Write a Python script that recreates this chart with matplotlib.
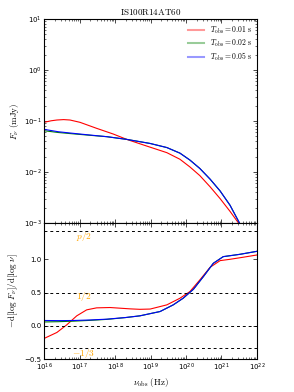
import numpy as np
import matplotlib
matplotlib.use('Agg')
import matplotlib.pyplot as plt

plt.rcParams['mathtext.fontset'] = 'cm'

# top panel: flux density, log10 of nu and F_nu
lognu_r = [16.0, 16.2, 16.36, 16.55, 16.73, 17.01, 17.48, 17.95, 18.33, 18.89, 19.46, 19.83, 20.11, 20.39, 20.68, 20.96, 21.24, 21.47, 21.6]
logF_r = [-1.025, -0.995, -0.98, -0.972, -0.98, -1.025, -1.143, -1.255, -1.36, -1.49, -1.62, -1.75, -1.90, -2.07, -2.29, -2.52, -2.77, -2.99, -3.12]

lognu_b = [16.0, 16.4, 16.83, 17.3, 17.77, 18.33, 18.99, 19.46, 19.83, 20.11, 20.39, 20.68, 20.96, 21.24, 21.50, 21.62]
logF_b = [-1.163, -1.21, -1.242, -1.275, -1.307, -1.36, -1.44, -1.52, -1.63, -1.765, -1.93, -2.14, -2.37, -2.65, -2.99, -3.14]
logF_g = [-1.19, -1.225, -1.252, -1.28, -1.307, -1.36, -1.44, -1.52, -1.63, -1.765, -1.93, -2.14, -2.37, -2.65, -2.99, -3.14]

# bottom panel: spectral slope -dlogF/dlognu
slnu_r = [16.0, 16.36, 16.64, 16.92, 17.2, 17.48, 17.86, 18.42, 18.7, 18.99, 19.46, 19.83, 20.11, 20.39, 20.68, 20.96, 21.24, 21.6, 22.0]
slope_r = [-0.19, -0.10, 0.015, 0.15, 0.24, 0.27, 0.275, 0.255, 0.248, 0.252, 0.315, 0.415, 0.515, 0.69, 0.88, 0.98, 1.0, 1.03, 1.065]

slnu_b = [16.0, 16.4, 16.83, 17.3, 17.77, 18.3, 18.70, 19.27, 19.64, 19.92, 20.21, 20.49, 20.77, 21.05, 21.52, 22.0]
slope_b = [0.08, 0.078, 0.08, 0.088, 0.10, 0.125, 0.15, 0.215, 0.315, 0.415, 0.55, 0.74, 0.94, 1.04, 1.075, 1.12]
slope_g = [0.058, 0.062, 0.07, 0.082, 0.097, 0.124, 0.15, 0.215, 0.315, 0.415, 0.55, 0.74, 0.94, 1.04, 1.075, 1.12]

labels = [r'$T_{\rm obs}=0.01\ \mathrm{s}$', r'$T_{\rm obs}=0.02\ \mathrm{s}$', r'$T_{\rm obs}=0.05\ \mathrm{s}$']
p_half = 1.43

fig = plt.figure(figsize=(2.94, 3.92), dpi=100)
ax1 = fig.add_axes([0.150, 0.431, 0.724, 0.5205])
ax2 = fig.add_axes([0.150, 0.084, 0.724, 0.347], sharex=ax1)

ax1.plot(10**np.array(lognu_r), 10**np.array(logF_r), color='r', lw=0.8, label=labels[0])
ax1.plot(10**np.array(lognu_b), 10**np.array(logF_g), color='g', lw=0.8, label=labels[1])
ax1.plot(10**np.array(lognu_b), 10**np.array(logF_b), color='b', lw=0.8, label=labels[2])
ax1.set_xscale('log')
ax1.set_yscale('log')
ax1.set_xlim(1e16, 1e22)
ax1.set_ylim(1e-3, 1e1)
ax1.set_ylabel(r'$F_\nu\ \mathrm{(mJy)}$', fontsize=6.5, labelpad=2)
ax1.set_title(r'$\mathrm{IS100R14AT60}$', fontsize=6.5, pad=3)
leg = ax1.legend(loc='upper right', frameon=False, fontsize=5.5, handlelength=2.0,
                 labelspacing=0.25, borderaxespad=0.3)
for l in leg.get_lines():
    l.set_alpha(0.4)
    l.set_linewidth(1.5)
plt.setp(ax1.get_xticklabels(), visible=False)

ax2.plot(10**np.array(slnu_r), slope_r, color='r', lw=0.8)
ax2.plot(10**np.array(slnu_b), slope_g, color='g', lw=0.8)
ax2.plot(10**np.array(slnu_b), slope_b, color='b', lw=0.8)
for yv in [p_half, 0.5, 0.0, -1/3]:
    ax2.axhline(yv, color='k', ls='--', lw=0.7, dashes=(3, 3))
ax2.text(10**17.12, 1.35, r'$p/2$', color='orange', fontsize=6.8, ha='center', va='center')
ax2.text(10**17.12, 0.44, r'$1/2$', color='orange', fontsize=6.8, ha='center', va='center')
ax2.text(10**17.12, -0.415, r'$-1/3$', color='orange', fontsize=6.8, ha='center', va='center')
ax2.set_ylim(-0.5, 1.545)
ax2.set_yticks([-0.5, 0.0, 0.5, 1.0])
ax2.set_xlabel(r'$\nu_{\rm obs}\ \mathrm{(Hz)}$', fontsize=6.5, labelpad=2)
ax2.set_ylabel(r'$\mathrm{-d[log}\ F_\nu\mathrm{]/d[log}\ \nu\mathrm{]}$', fontsize=6.5, labelpad=3)

for ax in [ax1, ax2]:
    ax.tick_params(which='both', direction='in', top=True, right=True, labelsize=5, pad=2)
    ax.tick_params(which='major', length=3, width=0.5)
    ax.tick_params(which='minor', length=1.5, width=0.4)
    for s in ax.spines.values():
        s.set_linewidth(0.8)

fig.savefig('out.png', dpi=100)
